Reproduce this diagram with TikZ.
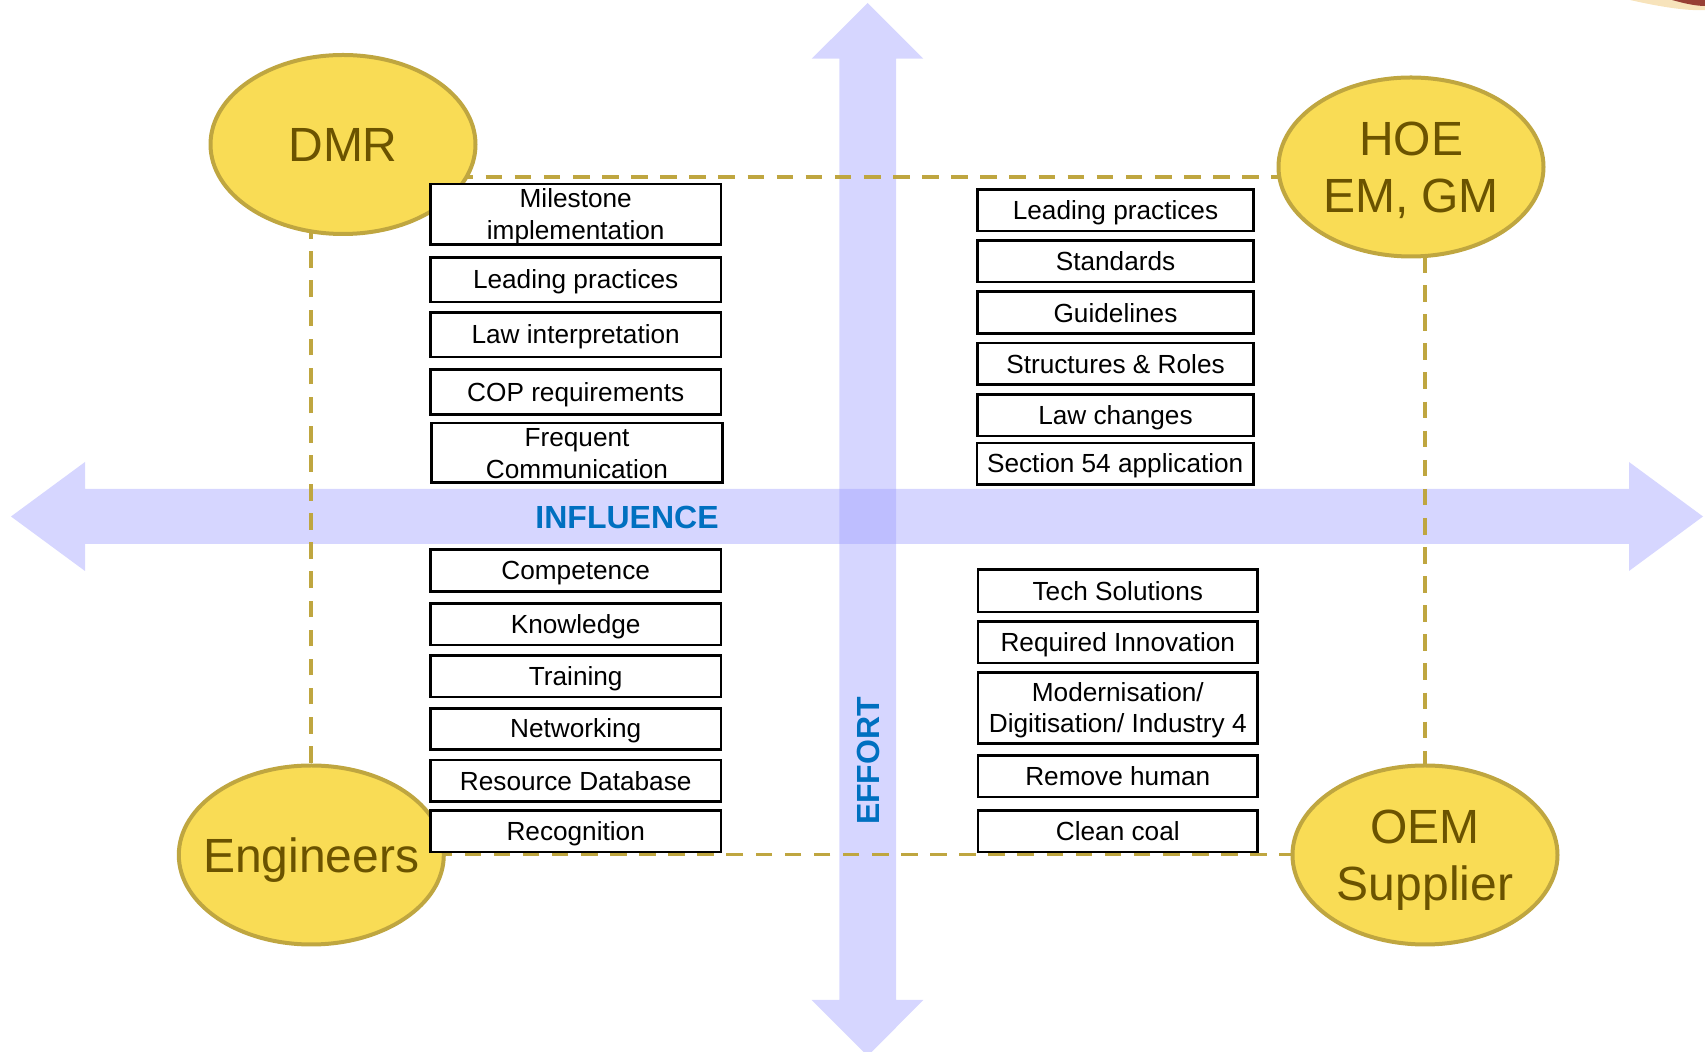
\documentclass[tikz,border=0pt]{standalone}
\usepackage{fontspec}
\setmainfont{Liberation Sans}
\usetikzlibrary{shapes.geometric}

\definecolor{arrowfill}{RGB}{153,153,255}
\definecolor{ovalfill}{RGB}{249,220,85}
\definecolor{ovaledge}{RGB}{191,166,64}
\definecolor{ovaltext}{RGB}{107,83,0}
\definecolor{dashgold}{RGB}{191,166,64}
\definecolor{axisblue}{RGB}{0,112,192}
\definecolor{cornerred}{RGB}{135,35,30}
\definecolor{cornergold}{RGB}{240,200,120}

% line struts so every box line sits at the same height
\newcommand{\lstrut}{\rule[-0.17em]{0pt}{1.07em}}
% cap-height line for the oval labels (descenders and width ignored)
\newcommand{\capline}[1]{\rule{0pt}{0.716em}\smash{\makebox[0pt]{#1}}}

\begin{document}
\begin{tikzpicture}[x=0.5pt,y=-0.5pt,
  stakeholder/.style={ellipse, draw=ovaledge, line width=2pt, fill=ovalfill,
    text=ovaltext, minimum width=132.5pt, minimum height=89.5pt,
    inner sep=0pt, outer sep=0pt, align=center,
    font=\fontsize{24}{28.8}\selectfont},
  item/.style={draw=black, line width=1.35pt, fill=white, inner sep=0pt,
    outer sep=0pt, align=center, font=\fontsize{13.1}{15.8}\selectfont},
  leftitem/.style={item, minimum width=145.3pt, minimum height=22.3pt},
  smallitem/.style={item, minimum width=145.3pt, minimum height=20.7pt},
  rightitem/.style={item, minimum width=138.15pt, minimum height=20.7pt},
  lowitem/.style={item, minimum width=139.8pt, minimum height=20.8pt},
  axis/.style={fill=arrowfill, fill opacity=0.4},
  axislabel/.style={text=axisblue, inner sep=0pt, font=\fontsize{16}{19}\selectfont\bfseries},
  frame/.style={draw=dashgold, line width=1.65pt, dash pattern=on 8.3pt off 6.25pt}
]
\useasboundingbox (0,0) rectangle (1705,1052);

% corner fragment
\fill[cornergold, opacity=0.5] (1630,0) .. controls (1665,8) and (1690,11) .. (1705,10) -- (1705,0) -- cycle;
\fill[cornerred, opacity=0.85] (1672,0) .. controls (1686,4) and (1697,6) .. (1705,6) -- (1705,0) -- cycle;

% influence axis (horizontal) and effort axis (vertical)
\fill[axis] (11,516.5) -- (85,462) -- (85,489) -- (1629,489) -- (1629,462)
  -- (1703,516.5) -- (1629,571) -- (1629,544) -- (85,544) -- (85,571) -- cycle;
\fill[axis] (867.7,3) -- (923.3,58.7) -- (896,58.7) -- (896,1000) -- (923.3,1000)
  -- (867.7,1056) -- (811.7,1000) -- (839.3,1000) -- (839.3,58.7) -- (811.7,58.7) -- cycle;

% dashed frame joining the stakeholders
\coordinate (ftl) at (311,177);
\coordinate (ftr) at (1425,177);
\coordinate (fbr) at (1425,854.5);
\coordinate (fbl) at (311,854.5);
\draw[frame] (ftl) -- (ftr) -- (fbr) -- (fbl) -- cycle;

% stakeholders
\node[stakeholder] (dmr) at (343,144.5) {\capline{DMR}};
\node[stakeholder] (hoe) at (1411,167) {\capline{HOE}\\\capline{EM, GM}};
\node[stakeholder] (eng) at (311.3,855) {\capline{Engineers}};
\node[stakeholder] (oem) at (1425,855) {\capline{OEM}\\\capline{Supplier}};

% upper left
\node[leftitem, minimum height=30.15pt] (l1) at (575.7,214.2) {\lstrut Milestone\\\lstrut implementation};
\node[leftitem] (l2) at (575.7,279.7) {\lstrut Leading practices};
\node[leftitem] (l3) at (575.7,334.7) {\lstrut Law interpretation};
\node[leftitem] (l4) at (575.7,392) {\lstrut COP requirements};
\node[leftitem, minimum width=145.65pt, minimum height=29.8pt] (l5) at (577,452.9) {\lstrut Frequent\\\lstrut Communication};

% lower left
\node[smallitem] (l6) at (575.7,570.5) {\lstrut Competence};
\node[smallitem] (l7) at (575.7,624.2) {\lstrut Knowledge};
\node[smallitem] (l8) at (575.7,676.3) {\lstrut Training};
\node[smallitem] (l9) at (575.7,728.9) {\lstrut Networking};
\node[smallitem] (l10) at (575.7,780.7) {\lstrut Resource Database};
\node[smallitem] (l11) at (575.7,831.2) {\lstrut Recognition};

% upper right
\node[rightitem] (r1) at (1115.5,210.3) {\lstrut Leading practices};
\node[rightitem] (r2) at (1115.5,261.2) {\lstrut Standards};
\node[rightitem] (r3) at (1115.5,312.5) {\lstrut Guidelines};
\node[rightitem] (r4) at (1115.5,363.7) {\lstrut Structures \& Roles};
\node[rightitem] (r5) at (1115.5,415.3) {\lstrut Law changes};
\node[rightitem] (r6) at (1115.2,463.7) {\lstrut Section 54 application};

% lower right
\node[lowitem, minimum height=21.15pt] (r7) at (1117.8,590.8) {\lstrut Tech Solutions};
\node[lowitem] (r8) at (1117.8,642.2) {\lstrut Required Innovation};
\node[lowitem, minimum height=35.65pt] (r9) at (1117.8,708) {\lstrut Modernisation/\\\lstrut Digitisation/ Industry 4};
\node[lowitem] (r10) at (1117.8,776.2) {\lstrut Remove human};
\node[lowitem, minimum height=20.65pt] (r11) at (1117.8,831.3) {\lstrut Clean coal};

% axis labels
\node[axislabel, anchor=east] (influence) at (719,517.7) {INFLUENCE};
\node[axislabel, rotate=90] (effort) at (868,761) {EFFORT};
\end{tikzpicture}
\end{document}
